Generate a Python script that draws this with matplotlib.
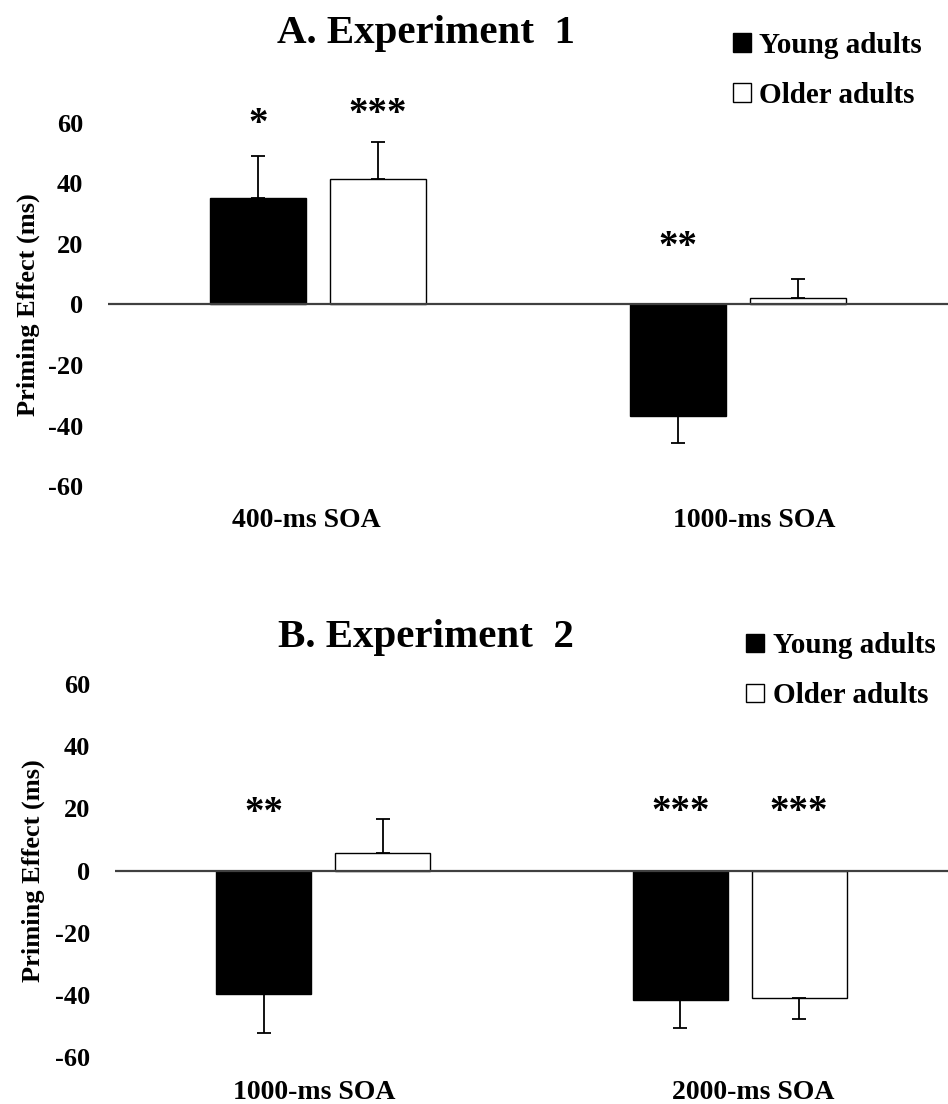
# priming effect by age group, experiments 1 and 2
import numpy as np
import matplotlib.pyplot as plt
from matplotlib.patches import Patch
from matplotlib.transforms import ScaledTranslation

plt.rcParams['font.family'] = ['Liberation Serif', 'DejaVu Serif']
plt.rcParams['font.weight'] = 'bold'
plt.rcParams['axes.unicode_minus'] = False

groups = ['Young adults', 'Older adults']

# Experiment 1
soa_a = ['400-ms SOA', '1000-ms SOA']
young_a = [35.0, -36.8]
young_a_err = [13.9, 9.1]
older_a = [41.5, 2.0]
older_a_err = [12.0, 6.4]
stars_young_a = ['*', '**']
stars_young_a_y = [59.5, 18.9]
stars_older_a = ['***', '']
stars_older_a_y = [62.7, 0]

# Experiment 2
soa_b = ['1000-ms SOA', '2000-ms SOA']
young_b = [-39.6, -41.6]
young_b_err = [12.7, 8.9]
older_b = [5.8, -40.8]
older_b_err = [10.9, 7.0]
stars_young_b = ['**', '***']
stars_young_b_y = [18.3, 18.8]
stars_older_b = ['', '***']
stars_older_b_y = [0, 18.8]

yticks = [-60, -40, -20, 0, 20, 40, 60]


def one_sided(vals, errs):
    # error bar only on the side away from zero
    vals = np.array(vals)
    errs = np.array(errs)
    lower = np.where(vals < 0, errs, 0)
    upper = np.where(vals >= 0, errs, 0)
    return [lower, upper]


def draw_panel(ax, cats, young, young_err, older, older_err,
               sy, sy_y, so, so_y, xpad, label_shift, ylab_x, leg_xy):
    x = np.arange(len(cats))
    w = 0.228
    off = 0.1425
    ax.bar(x - off, young, w, color='black', edgecolor='black', linewidth=1.0,
           yerr=one_sided(young, young_err), capsize=5,
           error_kw=dict(elinewidth=1.3, capthick=1.3, ecolor='black'), zorder=2)
    ax.bar(x + off, older, w, color='white', edgecolor='black', linewidth=1.0,
           yerr=one_sided(older, older_err), capsize=5,
           error_kw=dict(elinewidth=1.3, capthick=1.3, ecolor='black'), zorder=2)
    ax.axhline(0, color='#404040', lw=1.6, zorder=3)

    for i in range(len(cats)):
        if sy[i]:
            ax.text(x[i] - off, sy_y[i], sy[i], ha='center', va='center', fontsize=28)
        if so[i]:
            ax.text(x[i] + off, so_y[i], so[i], ha='center', va='center', fontsize=28)

    ax.set_xlim(-0.5, 1.5)
    ax.set_ylim(-60, 60)
    ax.set_yticks(yticks)
    ax.set_xticks(x)
    ax.set_xticklabels(cats, fontsize=20)
    ax.tick_params(axis='y', length=0, pad=18, labelsize=19)
    ax.tick_params(axis='x', length=0, pad=xpad)
    # category labels sit a little off the group centres
    for lab, dx in zip(ax.get_xticklabels(), label_shift):
        lab.set_transform(lab.get_transform() +
                          ScaledTranslation(dx / 100, 0, ax.figure.dpi_scale_trans))
    for s in ax.spines.values():
        s.set_visible(False)
    ax.set_ylabel('Priming Effect (ms)', fontsize=19, fontweight='bold')
    ax.yaxis.set_label_coords(ylab_x, 0.5)

    handles = [Patch(facecolor='black', edgecolor='black', linewidth=1.0),
               Patch(facecolor='white', edgecolor='black', linewidth=1.0)]
    ax.legend(handles, groups, loc='upper left', bbox_to_anchor=leg_xy,
              bbox_transform=ax.figure.transFigure, frameon=False,
              fontsize=21, handlelength=0.6, handleheight=0.6,
              handletextpad=0.3, labelspacing=0.8, borderaxespad=0)


fig = plt.figure(figsize=(9.48, 11.04), dpi=100)
ax1 = fig.add_axes([0.1139, 0.5597, 0.8861, 0.3293])
ax2 = fig.add_axes([0.1213, 0.0423, 0.8787, 0.3381])

draw_panel(ax1, soa_a, young_a, young_a_err, older_a, older_a_err,
           stars_young_a, stars_young_a_y, stars_older_a, stars_older_a_y,
           15.5, [-12, 16], -0.081, (0.761, 0.982))
draw_panel(ax2, soa_b, young_b, young_b_err, older_b, older_b_err,
           stars_young_b, stars_young_b_y, stars_older_b, stars_older_b_y,
           16, [-9, 14], -0.084, (0.775, 0.438))

fig.text(426 / 948, 0.961, 'A. Experiment  1', ha='center', va='baseline',
         fontsize=29.5, fontweight='bold')
fig.text(426 / 948, 0.414, 'B. Experiment  2', ha='center', va='baseline',
         fontsize=29.5, fontweight='bold')

fig.savefig('out.png', dpi=100)
